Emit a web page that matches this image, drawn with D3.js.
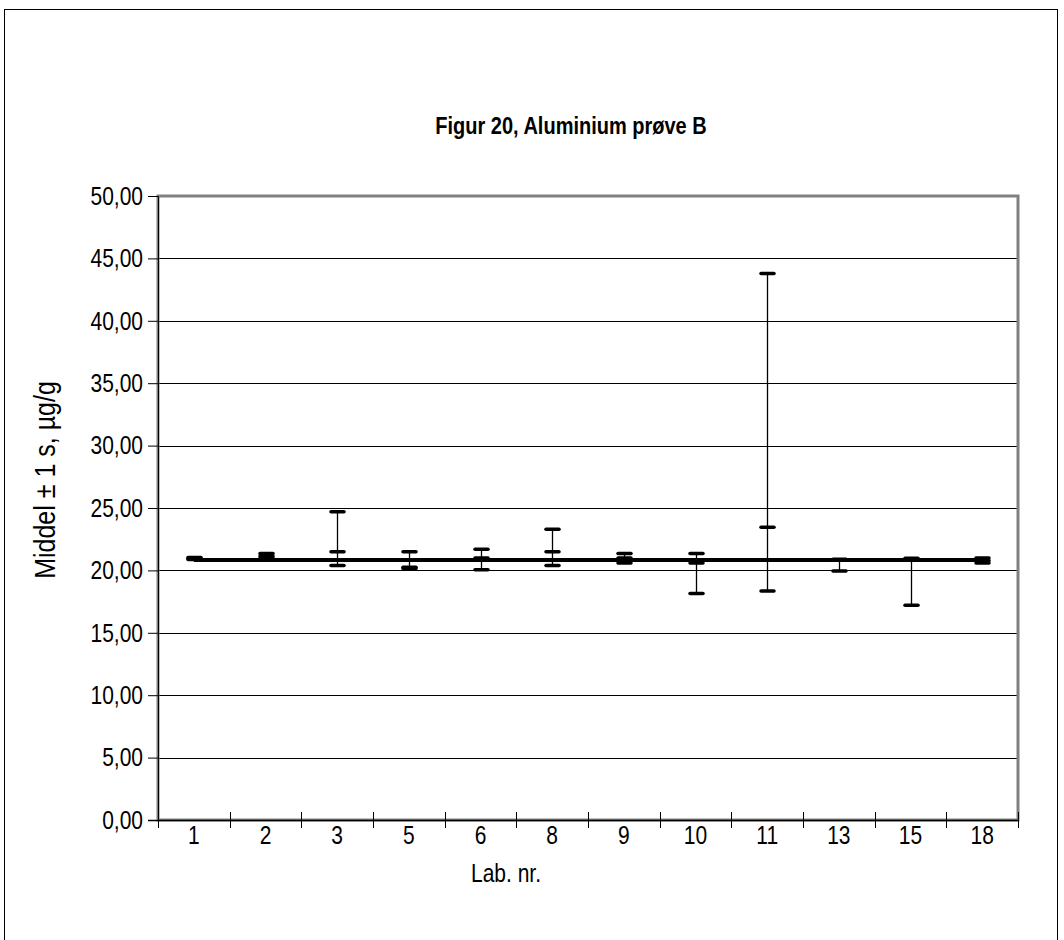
<!DOCTYPE html>
<html>
<head>
<meta charset="utf-8">
<script src="https://cdn.jsdelivr.net/npm/d3@7"></script>
<style>
  html, body { margin: 0; padding: 0; background: #fff; }
  svg { display: block; font-family: "Liberation Sans", Arial, sans-serif; }
</style>
</head>
<body>
<svg id="chart" width="1064" height="940"></svg>
<script>
// ---- data ----
const labs = ["1", "2", "3", "5", "6", "8", "9", "10", "11", "13", "15", "18"];
const highValues = [21.03, 21.35, 24.7, 21.5, 21.7, 23.3, 21.35, 21.35, 43.8, 20.9, 20.97, 21.0];
const meanValues = [20.95, 21.15, 21.5, 20.25, 21.0, 21.5, 21.0, 20.6, 23.45, 20.85, 20.9, 20.8];
const lowValues = [20.87, 21.0, 20.4, 20.15, 20.05, 20.4, 20.6, 18.15, 18.35, 19.95, 17.2, 20.6];
const overallMean = 20.83;
const yTicks = [0, 5, 10, 15, 20, 25, 30, 35, 40, 45, 50];
const titleText = "Figur 20, Aluminium prøve B";
const yTitle = "Middel ± 1 s, µg/g";
const xTitle = "Lab. nr.";

// ---- layout ----
const svg = d3.select("#chart");
const plot = { left: 158, right: 1018, top: 196, bottom: 820 };
const stretch = "scale(1,1.2)";

const x = d3.scaleBand().domain(labs).range([plot.left, plot.right]).padding(0);
const y = d3.scaleLinear().domain([0, 50]).range([plot.bottom, plot.top]);

// outer border
svg.append("rect")
  .attr("x", 4.5).attr("y", 9.5)
  .attr("width", 1053).attr("height", 960)
  .attr("fill", "none").attr("stroke", "#000").attr("stroke-width", 1);

// title
svg.append("g").attr("transform", "translate(571,134)")
  .append("text")
  .attr("transform", stretch)
  .attr("text-anchor", "middle")
  .attr("font-size", 20).attr("font-weight", "bold")
  .text(titleText);

// gridlines
svg.append("g")
  .selectAll("line")
  .data(yTicks.filter(d => d > 0 && d < 50))
  .join("line")
  .attr("x1", plot.left).attr("x2", plot.right)
  .attr("y1", d => Math.round(y(d)) + 0.5).attr("y2", d => Math.round(y(d)) + 0.5)
  .attr("stroke", "#000").attr("stroke-width", 1);

// plot frame (gray)
svg.append("rect")
  .attr("x", plot.left).attr("y", plot.top)
  .attr("width", plot.right - plot.left).attr("height", plot.bottom - plot.top)
  .attr("fill", "none").attr("stroke", "#808080").attr("stroke-width", 3);

// y axis
const yAxis = d3.axisLeft(y)
  .tickValues(yTicks)
  .tickSize(10)
  .tickPadding(5)
  .tickFormat(d => d3.format(".2f")(d).replace(".", ","));
const yg = svg.append("g").attr("transform", `translate(${plot.left},0)`).call(yAxis);
yg.select(".domain").attr("stroke", "#000").attr("stroke-width", 1);
yg.selectAll(".tick line").attr("stroke", "#000");
yg.selectAll(".tick text")
  .attr("font-size", 21).attr("fill", "#000")
  .attr("font-family", "Liberation Sans, Arial, sans-serif")
  .attr("x", -15).attr("y", 0).attr("dy", "0.33em")
  .attr("transform", stretch);

// x axis baseline
svg.append("line")
  .attr("x1", plot.left - 10).attr("x2", plot.right)
  .attr("y1", plot.bottom + 0.5).attr("y2", plot.bottom + 0.5)
  .attr("stroke", "#000").attr("stroke-width", 1.5);

// x ticks at category boundaries
const boundaries = labs.map(d => x(d)).concat([x(labs[labs.length - 1]) + x.bandwidth()]);
svg.append("g").selectAll("line")
  .data(boundaries)
  .join("line")
  .attr("x1", d => Math.round(d) + 0.5).attr("x2", d => Math.round(d) + 0.5)
  .attr("y1", plot.bottom - 8).attr("y2", plot.bottom + 8)
  .attr("stroke", "#000").attr("stroke-width", 1);

// x labels
svg.append("g").selectAll("g")
  .data(labs)
  .join("g")
  .attr("transform", d => `translate(${x(d) + x.bandwidth() / 2},844)`)
  .append("text")
  .attr("transform", stretch)
  .attr("text-anchor", "middle")
  .attr("font-size", 21)
  .text(d => d);

// x title
svg.append("g").attr("transform", "translate(506,882)")
  .append("text")
  .attr("transform", stretch)
  .attr("text-anchor", "middle")
  .attr("font-size", 21)
  .text(xTitle);

// y title
svg.append("g").attr("transform", "translate(55,480) rotate(-90)")
  .append("text")
  .attr("transform", stretch)
  .attr("text-anchor", "middle")
  .attr("font-size", 25)
  .text(yTitle);

// error bars
const bars = labs.map((d, i) => ({ lab: d, hi: highValues[i], mean: meanValues[i], lo: lowValues[i] }));
const cx = d => Math.round(x(d.lab) + x.bandwidth() / 2) + 0.5;
const capW = 6.5;
const eb = svg.append("g");
eb.selectAll("line.stem")
  .data(bars).join("line").attr("class", "stem")
  .attr("x1", cx).attr("x2", cx)
  .attr("y1", d => y(d.hi)).attr("y2", d => y(d.lo))
  .attr("stroke", "#000").attr("stroke-width", 1.3);
["hi", "mean", "lo"].forEach(k => {
  eb.selectAll("line.cap-" + k)
    .data(bars).join("line").attr("class", "cap-" + k)
    .attr("x1", d => cx(d) - capW).attr("x2", d => cx(d) + capW)
    .attr("y1", d => y(d[k])).attr("y2", d => y(d[k]))
    .attr("stroke", "#000").attr("stroke-width", 3.5)
    .attr("stroke-linecap", "round");
});

// overall mean line
const meanLine = d3.line().x(d => x(d) + x.bandwidth() / 2).y(() => y(overallMean));
svg.append("path")
  .datum(labs)
  .attr("d", meanLine)
  .attr("fill", "none").attr("stroke", "#000").attr("stroke-width", 4);
</script>
</body>
</html>
